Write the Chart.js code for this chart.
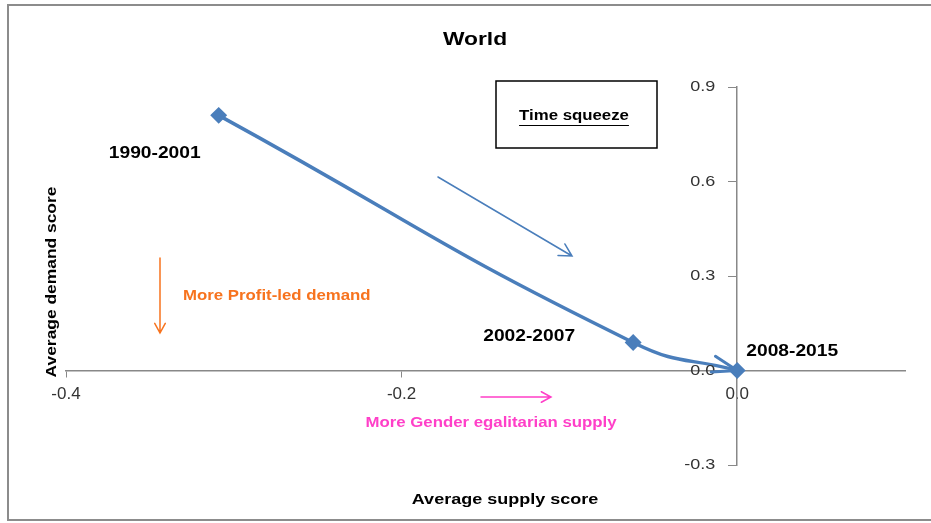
<!DOCTYPE html>
<html>
<head>
<meta charset="utf-8">
<title>World</title>
<script src="https://cdn.jsdelivr.net/npm/chart.js@4.4.1/dist/chart.umd.min.js"></script>
<style>
  html, body { margin: 0; padding: 0; background: #fff; }
  #wrap { width: 931px; height: 523px; position: relative; }
</style>
</head>
<body>
<div id="wrap"><canvas id="worldChart" width="931" height="523"></canvas></div>
<script>
// Data
const periods = ['1990-2001', '2002-2007', '2008-2015'];
const supplyScore = [-0.309, -0.062, 0.0];
const demandScore = [0.81, 0.089, 0.0];
const xTicks = [-0.4, -0.2, 0.0];
const yTicks = [-0.3, 0.0, 0.3, 0.6, 0.9];

const lineColor = '#4A7EBB';
const fontFamily = "'Liberation Sans', Arial, sans-serif";
const SX = 1.2; // the original text is a bit wide

// label offsets (px) from each point
const labelOffsets = [[-64, 38], [-104, -6], [55, -19]];

function drawArrow(ctx, x1, y1, x2, y2, color, width, head) {
    const ang = Math.atan2(y2 - y1, x2 - x1);
    ctx.save();
    ctx.strokeStyle = color;
    ctx.lineWidth = width;
    ctx.lineCap = 'round';
    ctx.beginPath();
    ctx.moveTo(x1, y1);
    ctx.lineTo(x2, y2);
    ctx.moveTo(x2 - head * Math.cos(ang - 0.5), y2 - head * Math.sin(ang - 0.5));
    ctx.lineTo(x2, y2);
    ctx.lineTo(x2 - head * Math.cos(ang + 0.5), y2 - head * Math.sin(ang + 0.5));
    ctx.stroke();
    ctx.restore();
}

function text(ctx, str, x, y, font, color, align) {
    ctx.save();
    ctx.font = font;
    ctx.fillStyle = color;
    ctx.textAlign = align || 'center';
    ctx.textBaseline = 'middle';
    ctx.translate(x, y);
    ctx.scale(SX, 1);
    ctx.fillText(str, 0, 0);
    ctx.restore();
}

const decorPlugin = {
    id: 'decor',
    afterDraw(chart) {
        const ctx = chart.ctx;
        const xs = chart.scales.x;
        const ys = chart.scales.y;
        ctx.save();

        // outer frame
        ctx.strokeStyle = '#8c8c8c';
        ctx.lineWidth = 2;
        ctx.strokeRect(8, 5, 930, 515);

        // title
        text(ctx, 'World', 475, 40, 'bold 19px ' + fontFamily, '#000');

        // Time squeeze box
        ctx.strokeStyle = '#000';
        ctx.lineWidth = 1.5;
        ctx.strokeRect(496, 81, 161, 67);
        text(ctx, 'Time squeeze', 574, 116, 'bold 14px ' + fontFamily, '#000');
        ctx.font = 'bold 14px ' + fontFamily;
        const tw = ctx.measureText('Time squeeze').width * SX;
        ctx.strokeStyle = '#000';
        ctx.lineWidth = 1.2;
        ctx.beginPath();
        ctx.moveTo(574 - tw / 2, 125.5);
        ctx.lineTo(574 + tw / 2, 125.5);
        ctx.stroke();

        // y tick labels, left of the axis
        const axisX = xs.getPixelForValue(0);
        yTicks.forEach((v) => {
            text(ctx, v.toFixed(1), axisX - 22, ys.getPixelForValue(v), '15px ' + fontFamily, '#333', 'right');
        });

        // period labels beside points
        periods.forEach((p, i) => {
            const px = xs.getPixelForValue(supplyScore[i]);
            const py = ys.getPixelForValue(demandScore[i]);
            text(ctx, p, px + labelOffsets[i][0], py + labelOffsets[i][1], 'bold 16px ' + fontFamily, '#000');
        });

        // arrow head at the end of the path
        const ex = xs.getPixelForValue(supplyScore[2]);
        const ey = ys.getPixelForValue(demandScore[2]);
        ctx.strokeStyle = lineColor;
        ctx.lineWidth = 3;
        ctx.lineCap = 'round';
        const th = 0.26;
        ctx.beginPath();
        ctx.moveTo(ex - 26 * Math.cos(th + 0.32), ey - 26 * Math.sin(th + 0.32));
        ctx.lineTo(ex, ey);
        ctx.lineTo(ex - 26 * Math.cos(th - 0.32), ey - 26 * Math.sin(th - 0.32));
        ctx.stroke();

        // direction arrows
        drawArrow(ctx, 438, 177, 572, 256, lineColor, 1.5, 14);
        drawArrow(ctx, 160, 258, 160, 333, '#F7731E', 1.5, 11);
        drawArrow(ctx, 481, 397, 551, 397, '#FF3FC8', 1.5, 11);

        text(ctx, 'More Profit-led demand', 183, 296, 'bold 14px ' + fontFamily, '#F7731E', 'left');
        text(ctx, 'More Gender egalitarian supply', 491, 423, 'bold 14px ' + fontFamily, '#FF3FC8');

        // axis titles
        text(ctx, 'Average supply score', 505, 500, 'bold 15px ' + fontFamily, '#000');
        ctx.save();
        ctx.translate(52, 282);
        ctx.rotate(-Math.PI / 2);
        text(ctx, 'Average demand score', 0, 0, 'bold 14.5px ' + fontFamily, '#000');
        ctx.restore();

        ctx.restore();
    }
};

const ctx = document.getElementById('worldChart').getContext('2d');
const worldChart = new Chart(ctx, {
    type: 'scatter',
    data: {
        datasets: [{
            label: 'World',
            data: supplyScore.map((x, i) => ({ x: x, y: demandScore[i] })),
            showLine: true,
            borderColor: lineColor,
            backgroundColor: lineColor,
            borderWidth: 3.5,
            tension: 0.5,
            pointStyle: 'rectRot',
            pointRadius: 6,
            pointHoverRadius: 6,
        }],
    },
    options: {
        responsive: false,
        animation: false,
        layout: {
            padding: { left: 66, right: 26, top: 87, bottom: 58 },
        },
        plugins: {
            legend: { display: false },
            tooltip: { enabled: false },
            title: { display: false },
        },
        scales: {
            x: {
                type: 'linear',
                min: -0.4,
                max: 0.1,
                position: { y: 0 },
                afterBuildTicks: (axis) => { axis.ticks = xTicks.map(v => ({ value: v })); },
                grid: { drawOnChartArea: false, drawTicks: true, tickLength: 6, color: '#888' },
                border: { color: '#888', width: 1.5 },
                ticks: {
                    padding: 8,
                    color: '#333',
                    font: { size: 17, family: fontFamily },
                    callback: (v) => Number(v).toFixed(1),
                },
            },
            y: {
                type: 'linear',
                min: -0.3,
                max: 0.9,
                position: { x: 0 },
                afterBuildTicks: (axis) => { axis.ticks = yTicks.map(v => ({ value: v })); },
                grid: { drawOnChartArea: false, drawTicks: true, tickLength: 8, color: '#888' },
                border: { color: '#888', width: 1.5 },
                ticks: { display: false },
            },
        },
    },
    plugins: [decorPlugin],
});
</script>
</body>
</html>
